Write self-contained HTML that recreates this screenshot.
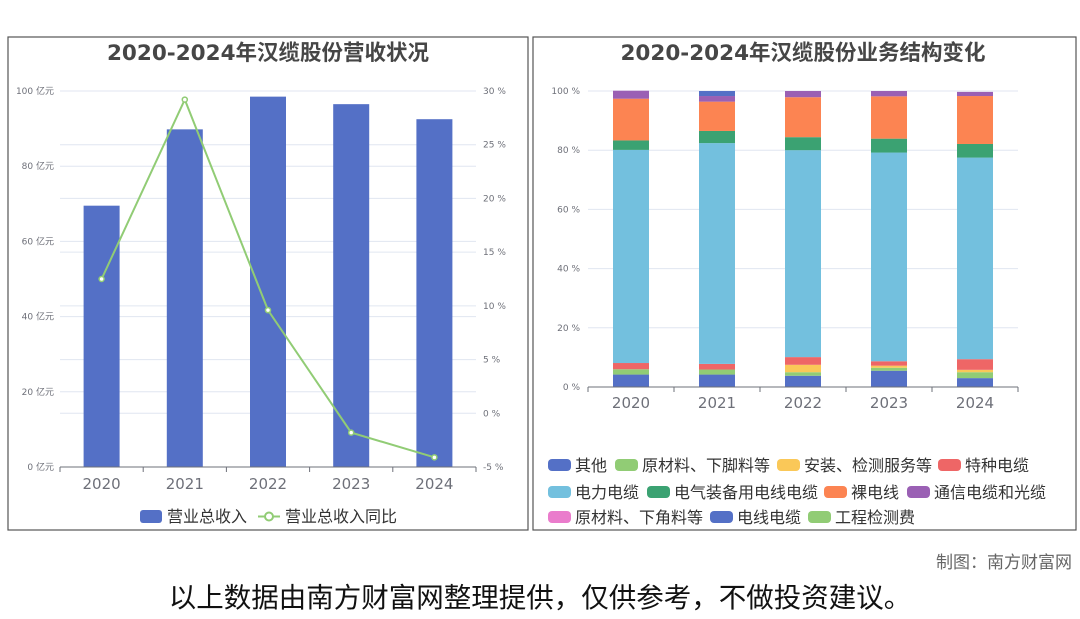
<!DOCTYPE html>
<html><head><meta charset="utf-8"><style>
body{margin:0;width:1080px;height:614px;background:#fff;overflow:hidden;font-family:"Liberation Sans","Noto Sans CJK SC",sans-serif}
svg text{font-family:"DejaVu Sans","Noto Sans CJK SC",sans-serif}
</style></head><body>
<svg width="1080" height="614">
<rect x="8" y="37" width="520" height="493" fill="none" stroke="#555" stroke-width="1.2"/>
<rect x="533" y="37" width="543" height="493" fill="none" stroke="#555" stroke-width="1.2"/>
<text x="268" y="60" text-anchor="middle" font-size="21.5" font-weight="bold" fill="#464646">2020-2024年汉缆股份营收状况</text>
<text x="803" y="60" text-anchor="middle" font-size="21.5" font-weight="bold" fill="#464646">2020-2024年汉缆股份业务结构变化</text>
<g id="left"></g><g id="right"></g>
<text x="1072" y="568" text-anchor="end" font-size="17" fill="#666">制图：南方财富网</text>
<text x="540" y="607" text-anchor="middle" font-size="27.5" fill="#111">以上数据由南方财富网整理提供，仅供参考，不做投资建议。</text>
</svg>
<script>
const years=['2020','2021','2022','2023','2024'];
const revenue=[69.5,89.8,98.5,96.5,92.5];
const growth=[12.5,29.2,9.6,-1.8,-4.1];
const leftTicks=[0,20,40,60,80,100];
const rightTicks=[-5,0,5,10,15,20,25,30];
const pctTicks=[0,20,40,60,80,100];
const seriesNames=['其他','原材料、下脚料等','安装、检测服务等','特种电缆','电力电缆','电气装备用电线电缆','裸电线','通信电缆和光缆','原材料、下角料等','电线电缆','工程检测费'];
const seriesColors=['#5470c6','#91cc75','#fac858','#ee6666','#73c0de','#3ba272','#fc8452','#9a60b4','#ea7ccc','#5470c6','#91cc75'];
const s_other=[4.2,4.2,3.8,5.5,3.0];
const s_raw=[1.8,1.7,1.2,1.0,2.0];
const s_install=[0,0,2.5,0.7,0.8];
const s_special=[2.1,1.9,2.6,1.5,3.6];
const s_power=[72.0,74.6,69.9,70.5,68.1];
const s_equip=[3.2,4.1,4.4,4.7,4.6];
const s_bare=[14.1,9.9,13.5,14.3,16.2];
const s_comm=[2.7,1.9,2.1,1.8,1.4];
const s_raw2=[0,0,0,0,0];
const s_wire=[0,1.7,0,0,0];
const s_test=[0,0,0,0,0];
const stack=[s_other,s_raw,s_install,s_special,s_power,s_equip,s_bare,s_comm,s_raw2,s_wire,s_test];
const NS='http://www.w3.org/2000/svg';
function mk(p,t,a,txt){const e=document.createElementNS(NS,t);for(const k in a)e.setAttribute(k,a[k]);if(txt!==undefined)e.textContent=txt;p.appendChild(e);return e;}
const L=document.getElementById('left');
const lx0=60,lx1=476,ly0=467,ly1=91;
const band=(lx1-lx0)/years.length;
const xL=i=>lx0+band*(i+0.5);
const yRev=v=>ly0-(v/100)*(ly0-ly1);
const yPct=v=>ly0-((v+5)/35)*(ly0-ly1);
leftTicks.forEach(t=>{const y=yRev(t);
 if(t>0){const g=mk(L,'line',{x1:lx0,x2:lx1,y1:y,y2:y,stroke:'#e0e6f1'});}
 const tx=mk(L,'text',{x:lx0-6,y:y+3,'text-anchor':'end','font-size':9,fill:'#6e7079'},t+' 亿元');});
rightTicks.forEach(t=>{const y=yPct(t);
 const g=mk(L,'line',{x1:lx0,x2:lx1,y1:y,y2:y,stroke:'#e0e6f1'});
 const tx=mk(L,'text',{x:lx1+7,y:y+3,'font-size':9,fill:'#6e7079'},t+' %');});
revenue.forEach((v,i)=>{const r=mk(L,'rect',{x:xL(i)-18,y:yRev(v),width:36,height:ly0-yRev(v),fill:'#5470c6'});});
const ax=mk(L,'line',{x1:lx0,x2:lx1,y1:ly0,y2:ly0,stroke:'#6e7079'});
for(let i=0;i<=years.length;i++){mk(L,'line',{x1:lx0+band*i,x2:lx0+band*i,y1:ly0,y2:ly0+5,stroke:'#6e7079'});}
years.forEach((y,i)=>{const t=mk(L,'text',{x:xL(i),y:489,'text-anchor':'middle','font-size':15,fill:'#6e7079'},y);});
const pl=mk(L,'polyline',{points:growth.map((v,i)=>xL(i)+','+yPct(v)).join(' '),fill:'none',stroke:'#91cc75','stroke-width':2});

growth.forEach((v,i)=>{const c=mk(L,'circle',{cx:xL(i),cy:yPct(v),r:2.5,fill:'#fff',stroke:'#91cc75','stroke-width':1.5});});
let lg=mk(L,'rect',{x:140,y:510,width:22,height:13,rx:3,fill:'#5470c6'});
lg=mk(L,'text',{x:167,y:522,'font-size':16,fill:'#333'},'营业总收入');
mk(L,'line',{x1:258,x2:280,y1:516.5,y2:516.5,stroke:'#91cc75','stroke-width':2});
mk(L,'circle',{cx:269,cy:516.5,r:4,fill:'#fff',stroke:'#91cc75','stroke-width':2});
lg=mk(L,'text',{x:285,y:522,'font-size':16,fill:'#333'},'营业总收入同比');
const R=document.getElementById('right');
const rx0=588,rx1=1018,ry0=387,ry1=91;
const rb=(rx1-rx0)/years.length;
const xR=i=>rx0+rb*(i+0.5);
const yP=v=>ry0-(v/100)*(ry0-ry1);
pctTicks.forEach(t=>{const y=yP(t);
 if(t>0){const g=mk(R,'line',{x1:rx0,x2:rx1,y1:y,y2:y,stroke:'#e0e6f1'});}
 const tx=mk(R,'text',{x:rx0-8,y:y+3,'text-anchor':'end','font-size':9,fill:'#6e7079'},t+' %');});
years.forEach((yr,i)=>{let acc=0;
 stack.forEach((s,k)=>{const v=s[i];if(v<=0)return;
  const r=mk(R,'rect',{x:xR(i)-18,y:yP(acc+v),width:36,height:yP(acc)-yP(acc+v),fill:seriesColors[k]});
  acc+=v;});});
const ax2=mk(R,'line',{x1:rx0,x2:rx1,y1:ry0,y2:ry0,stroke:'#6e7079'});
for(let i=0;i<=years.length;i++){mk(R,'line',{x1:rx0+rb*i,x2:rx0+rb*i,y1:ry0,y2:ry0+5,stroke:'#6e7079'});}
years.forEach((y,i)=>{const t=mk(R,'text',{x:xR(i),y:408,'text-anchor':'middle','font-size':15,fill:'#6e7079'},y);});
const legX=[548,615,777,938,548,647,824,907,548,710,808];
const legY=[465,465,465,465,492,492,492,492,517,517,517];
seriesNames.forEach((n,k)=>{
 const r=mk(R,'rect',{x:legX[k],y:legY[k]-6,width:23,height:12,rx:4,fill:seriesColors[k]});
 
 const t=mk(R,'text',{x:legX[k]+27,y:legY[k]+6,'font-size':16,fill:'#333'},n);
 });
</script>
</body></html>
